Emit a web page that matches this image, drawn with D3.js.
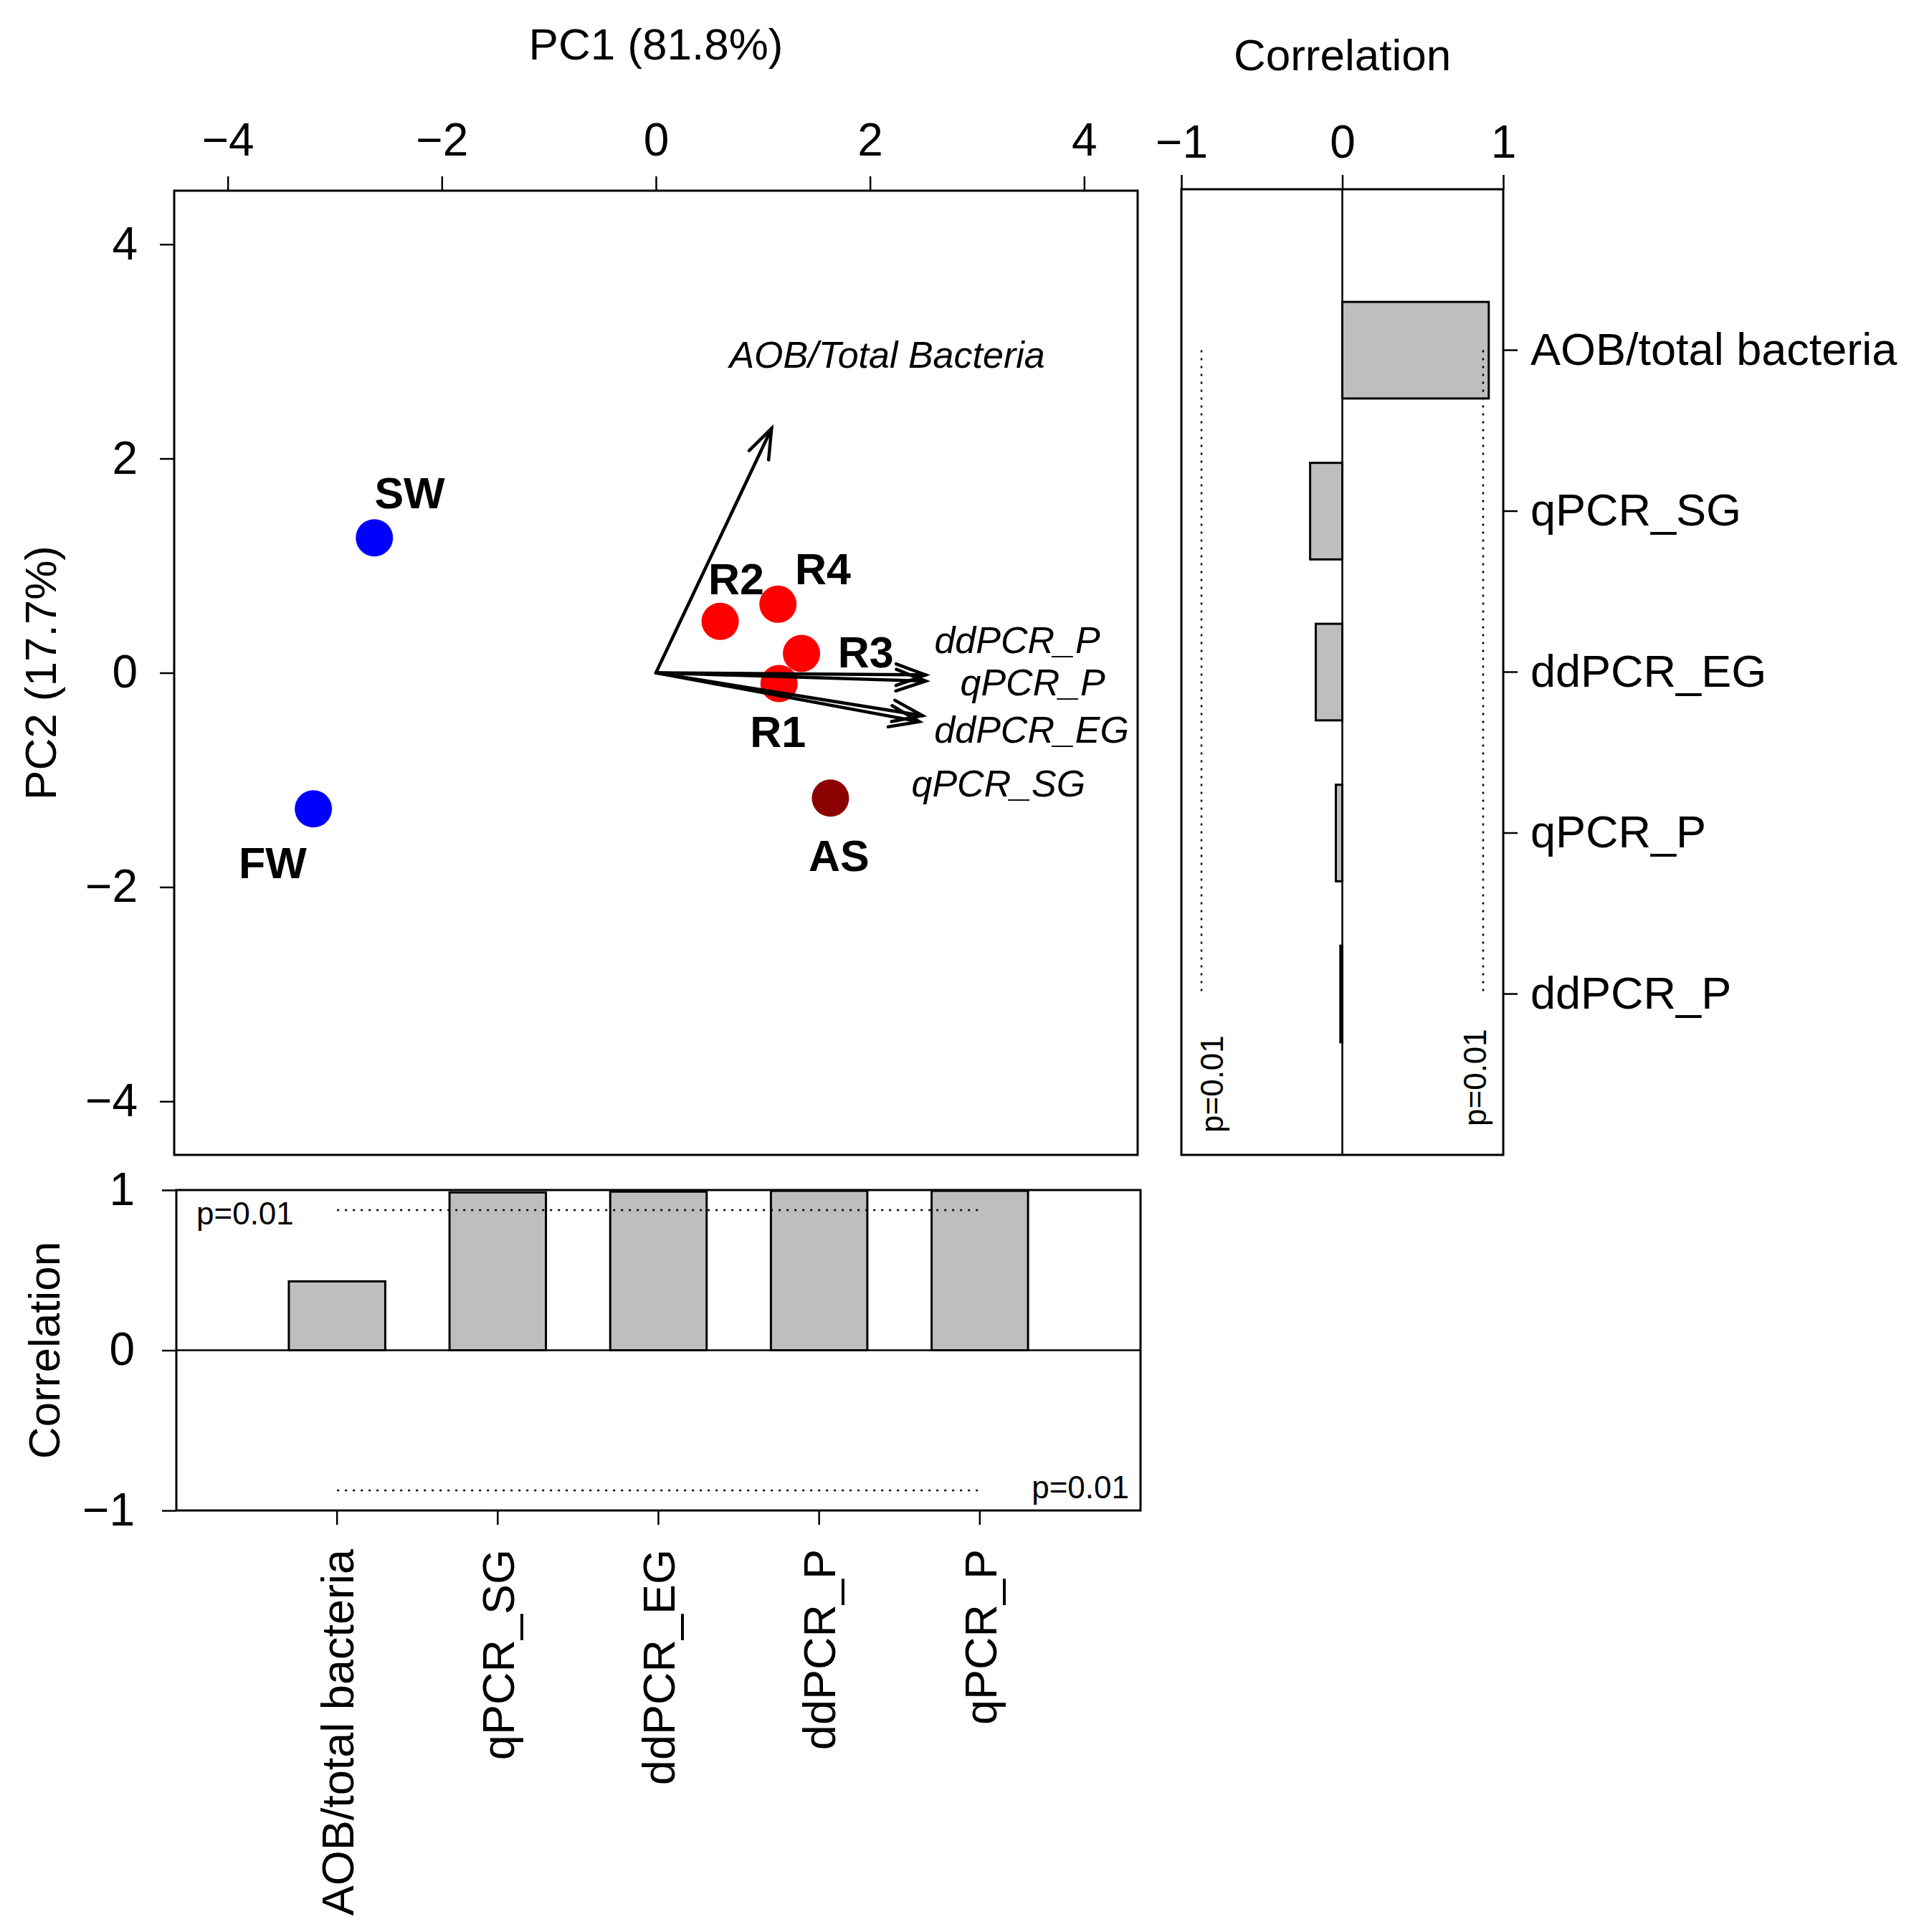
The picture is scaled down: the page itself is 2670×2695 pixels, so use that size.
<!DOCTYPE html>
<html><head><meta charset="utf-8">
<script src="https://cdn.jsdelivr.net/npm/d3@7"></script>
<style>body{margin:0;background:#fff}svg text{font-family:"Liberation Sans",Arial,sans-serif}</style>
</head><body>
<script>
// ---------- data ----------
const samples = ["SW","FW","R1","R2","R3","R4","AS"];
const samplePC1 = [-2.63,-3.20,1.15,0.60,1.36,1.14,1.63];
const samplePC2 = [1.26,-1.27,-0.10,0.48,0.18,0.64,-1.17];
const sampleColors = ["#0000ff","#0000ff","#ff0000","#ff0000","#ff0000","#ff0000","#8b0000"];
const sampleLabelX = [-2.30,-3.58,1.14,0.75,1.96,1.56,1.71];
const sampleLabelY = [1.68,-1.77,-0.545,0.88,0.20,0.97,-1.70];

const variables = ["AOB/Total Bacteria","ddPCR_P","qPCR_P","ddPCR_EG","qPCR_SG"];
const loadPC1 = [1.08,2.52,2.52,2.49,2.46];
const loadPC2 = [2.28,-0.02,-0.077,-0.40,-0.456];
const varLabelX = [2.16,3.375,3.52,3.51,3.20];
const varLabelY = [2.97,0.31,-0.084,-0.53,-1.03];

const pcTicks = [-4,-2,0,2,4];
const corTicks = [-1,0,1];

const rightCats = ["AOB/total bacteria","qPCR_SG","ddPCR_EG","qPCR_P","ddPCR_P"];
const rightCorr = [0.91,-0.20,-0.165,-0.04,-0.012];
const bottomCats = ["AOB/total bacteria","qPCR_SG","ddPCR_EG","ddPCR_P","qPCR_P"];
const bottomCorr = [0.43,0.985,0.99,0.995,0.995];
const pCrit = 0.875;
const pLabel = "p=0.01";

// ---------- setup ----------
const W = 2670, H = 2695;
const FONT = '"Liberation Sans", Arial, sans-serif';
const fmt = d3.format("d");
const svg = d3.select("body").append("svg").attr("width", W).attr("height", H);
svg.append("rect").attr("width", W).attr("height", H).attr("fill", "#fff");

function styleAxis(g, fs) {
  g.attr("font-size", fs).attr("font-family", FONT);
  g.select(".domain").remove();
  g.selectAll(".tick line").attr("stroke", "#000").attr("stroke-width", 2.5);
  g.selectAll(".tick text").attr("fill", "#000");
}

// ---------- main PCA biplot ----------
const x = d3.scaleLinear([-4.5, 4.5], [243, 1587]);
const y = d3.scaleLinear([-4.5, 4.5], [1611, 266]);

const gxTop = svg.append("g").attr("transform", `translate(0,${y(4.5)})`)
  .call(d3.axisTop(x).tickValues(pcTicks).tickFormat(fmt).tickSize(20).tickPadding(29).tickSizeOuter(0));
styleAxis(gxTop, 64);
const gyLeft = svg.append("g").attr("transform", `translate(${x(-4.5)},0)`)
  .call(d3.axisLeft(y).tickValues(pcTicks).tickFormat(fmt).tickSize(20).tickPadding(31).tickSizeOuter(0));
styleAxis(gyLeft, 64);

svg.append("rect").attr("x", x(-4.5)).attr("y", y(4.5))
  .attr("width", x(4.5) - x(-4.5)).attr("height", y(-4.5) - y(4.5))
  .attr("fill", "none").attr("stroke", "#000").attr("stroke-width", 3);

svg.append("text").attr("x", x(0)).attr("y", 83).attr("text-anchor", "middle")
  .attr("font-size", 62).text("PC1 (81.8%)");
svg.append("text").attr("transform", `translate(78,${y(0)}) rotate(-90)`)
  .attr("text-anchor", "middle").attr("font-size", 62).text("PC2 (17.7%)");

// points
const pts = samples.map((s, i) => ({s, px: samplePC1[i], py: samplePC2[i], c: sampleColors[i], lx: sampleLabelX[i], ly: sampleLabelY[i]}));
svg.append("g").selectAll("circle").data(pts).join("circle")
  .attr("cx", d => x(d.px)).attr("cy", d => y(d.py)).attr("r", 26).attr("fill", d => d.c);

// arrows
const arr = variables.map((v, i) => ({v, ax: loadPC1[i], ay: loadPC2[i], lx: varLabelX[i], ly: varLabelY[i]}));
const ga = svg.append("g").attr("stroke", "#000").attr("stroke-width", 4.5).attr("fill", "none")
  .attr("stroke-linecap", "round");
arr.forEach(d => {
  const x0 = x(0), y0 = y(0), x1 = x(d.ax), y1 = y(d.ay);
  ga.append("line").attr("x1", x0).attr("y1", y0).attr("x2", x1).attr("y2", y1);
  const ang = Math.atan2(y1 - y0, x1 - x0), L = 44, a = 20 * Math.PI / 180;
  const p = d3.path();
  p.moveTo(x1 - L * Math.cos(ang - a), y1 - L * Math.sin(ang - a));
  p.lineTo(x1, y1);
  p.lineTo(x1 - L * Math.cos(ang + a), y1 - L * Math.sin(ang + a));
  ga.append("path").attr("d", p.toString()).attr("stroke-linejoin", "miter");
});
svg.append("g").selectAll("text").data(arr).join("text")
  .attr("x", d => x(d.lx)).attr("y", d => y(d.ly)).attr("dy", "0.36em")
  .attr("text-anchor", "middle").attr("font-size", 52).attr("font-style", "italic")
  .text(d => d.v);

// sample labels
svg.append("g").selectAll("text").data(pts).join("text")
  .attr("x", d => x(d.lx)).attr("y", d => y(d.ly)).attr("dy", "0.36em")
  .attr("text-anchor", "middle").attr("font-size", 61).attr("font-weight", "bold")
  .text(d => d.s);

// ---------- right correlation panel (PC2) ----------
const xr = d3.scaleLinear([-1, 1], [1648, 2097]);
const yr = d3.scaleBand(rightCats, [264, 1611]).paddingInner(0.4).paddingOuter(0.7);
const rData = rightCats.map((c, i) => ({c, v: rightCorr[i]}));

svg.append("g").selectAll("rect").data(rData).join("rect")
  .attr("x", d => xr(Math.min(0, d.v))).attr("y", d => yr(d.c))
  .attr("width", d => Math.abs(xr(d.v) - xr(0))).attr("height", yr.bandwidth())
  .attr("fill", "#bebebe").attr("stroke", "#000").attr("stroke-width", 3);

svg.append("line").attr("x1", xr(0)).attr("x2", xr(0)).attr("y1", 264).attr("y2", 1611)
  .attr("stroke", "#000").attr("stroke-width", 2.5);

const rY0 = yr(rightCats[0]) + yr.bandwidth() / 2, rY1 = yr(rightCats[rightCats.length - 1]) + yr.bandwidth() / 2;
[-pCrit, pCrit].forEach(v => {
  svg.append("line").attr("x1", xr(v)).attr("x2", xr(v)).attr("y1", rY0).attr("y2", rY1)
    .attr("stroke", "#000").attr("stroke-width", 2.5).attr("stroke-dasharray", "3,8");
});
svg.append("text").attr("transform", `translate(${xr(-pCrit) + 14},1580) rotate(-90)`)
  .attr("dy", "0.36em").attr("font-size", 44).text(pLabel);
svg.append("text").attr("transform", `translate(${xr(pCrit) - 12},1571) rotate(-90)`)
  .attr("dy", "0.36em").attr("font-size", 44).text(pLabel);

svg.append("rect").attr("x", xr(-1)).attr("y", 264).attr("width", xr(1) - xr(-1)).attr("height", 1611 - 264)
  .attr("fill", "none").attr("stroke", "#000").attr("stroke-width", 3);

const gxr = svg.append("g").attr("transform", "translate(0,264)")
  .call(d3.axisTop(xr).tickValues(corTicks).tickFormat(fmt).tickSize(20).tickPadding(24).tickSizeOuter(0));
styleAxis(gxr, 64);
const gyr = svg.append("g").attr("transform", `translate(${xr(1)},0)`)
  .call(d3.axisRight(yr).tickSize(20).tickPadding(18).tickSizeOuter(0));
styleAxis(gyr, 63);

svg.append("text").attr("x", xr(0)).attr("y", 98).attr("text-anchor", "middle")
  .attr("font-size", 62).text("Correlation");

// ---------- bottom correlation panel (PC1) ----------
const xb = d3.scaleBand(bottomCats, [246, 1591]).paddingInner(0.4).paddingOuter(0.7);
const yb = d3.scaleLinear([-1, 1], [2107, 1660]);
const bData = bottomCats.map((c, i) => ({c, v: bottomCorr[i]}));

svg.append("g").selectAll("rect").data(bData).join("rect")
  .attr("x", d => xb(d.c)).attr("y", d => yb(Math.max(0, d.v)))
  .attr("width", xb.bandwidth()).attr("height", d => Math.abs(yb(d.v) - yb(0)))
  .attr("fill", "#bebebe").attr("stroke", "#000").attr("stroke-width", 3);

svg.append("line").attr("x1", 246).attr("x2", 1591).attr("y1", yb(0)).attr("y2", yb(0))
  .attr("stroke", "#000").attr("stroke-width", 2.5);

const bX0 = xb(bottomCats[0]) + xb.bandwidth() / 2, bX1 = xb(bottomCats[bottomCats.length - 1]) + xb.bandwidth() / 2;
[-pCrit, pCrit].forEach(v => {
  svg.append("line").attr("x1", bX0).attr("x2", bX1).attr("y1", yb(v)).attr("y2", yb(v))
    .attr("stroke", "#000").attr("stroke-width", 2.5).attr("stroke-dasharray", "3,8");
});
svg.append("text").attr("x", 274).attr("y", yb(pCrit) + 4).attr("dy", "0.36em")
  .attr("font-size", 44).text(pLabel);
svg.append("text").attr("x", 1575).attr("y", yb(-pCrit) - 5).attr("dy", "0.36em")
  .attr("text-anchor", "end").attr("font-size", 44).text(pLabel);

svg.append("rect").attr("x", 246).attr("y", yb(1)).attr("width", 1591 - 246).attr("height", yb(-1) - yb(1))
  .attr("fill", "none").attr("stroke", "#000").attr("stroke-width", 3);

const gyb = svg.append("g").attr("transform", "translate(246,0)")
  .call(d3.axisLeft(yb).tickValues(corTicks).tickFormat(fmt).tickSize(20).tickPadding(38).tickSizeOuter(0));
styleAxis(gyb, 64);
const gxb = svg.append("g").attr("transform", `translate(0,${yb(-1)})`)
  .call(d3.axisBottom(xb).tickSize(20).tickSizeOuter(0));
styleAxis(gxb, 63);
gxb.selectAll(".tick text").attr("transform", "rotate(-90)").attr("x", -54).attr("y", 0)
  .attr("dy", "0.36em").attr("text-anchor", "end");

svg.append("text").attr("transform", `translate(83,${yb(0)}) rotate(-90)`)
  .attr("text-anchor", "middle").attr("font-size", 62).text("Correlation");
</script>
</body></html>
